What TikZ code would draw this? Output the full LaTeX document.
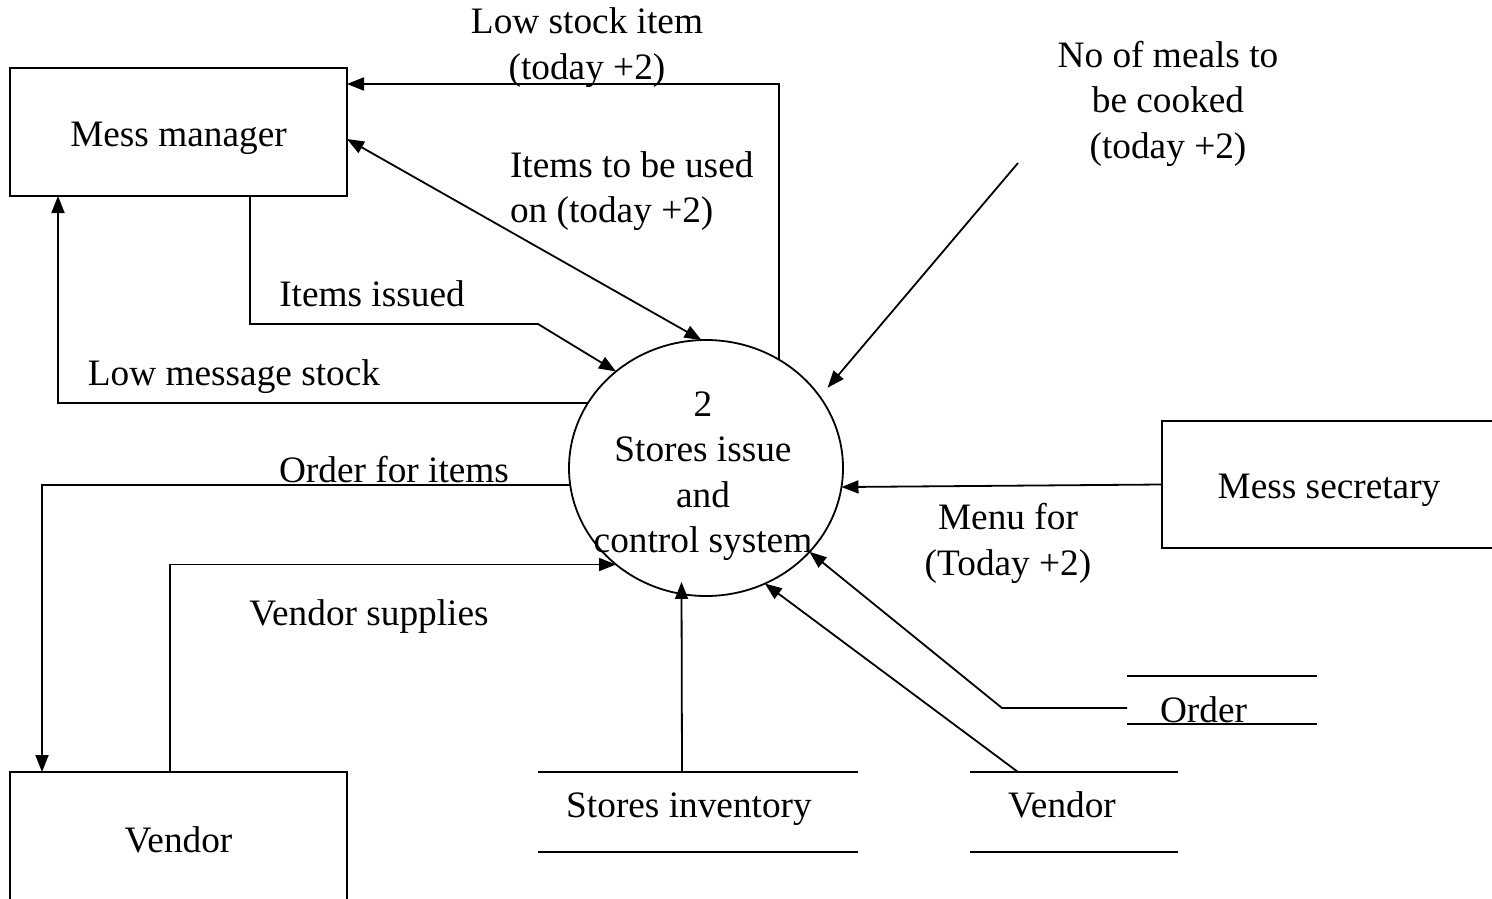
\documentclass[tikz,border=0pt]{standalone}
\usepackage{fontspec}
\setmainfont{Liberation Serif}
\usetikzlibrary{arrows.meta,shapes.geometric,calc}
\newcommand\dfdfont{\fontsize{37.3}{45.5}\selectfont}

\begin{document}
\begin{tikzpicture}[x=1pt,y=-1pt,
  every node/.style={font=\dfdfont, inner sep=0pt, outer sep=0pt},
  flow/.style={line width=1.8pt},
  arr/.style={flow, -{Triangle[length=17pt,width=13pt]}},
  darr/.style={flow, {Triangle[length=17pt,width=13pt]}-{Triangle[length=17pt,width=13pt]}},
  entity/.style={draw, line width=1.8pt, rectangle, text height=28pt, text depth=0pt},
  process/.style={draw, line width=1.8pt, ellipse, minimum width=274pt, minimum height=256pt}
]
\useasboundingbox (0,0) rectangle (1492,899);

% external entities
\node[entity, minimum width=337pt, minimum height=128pt] (mm) at (178.5,132) {Mess manager};
\node[entity, minimum width=337pt, minimum height=132pt] (vd) at (178.5,838) {Vendor};
\node[entity, minimum width=334pt, minimum height=127pt] (ms) at (1329,484.5) {Mess secretary};

% process
\node[process] (c) at (706,468) {};
\node[anchor=north, align=center] (ctext) at (703,384.15) {\strut 2\\Stores issue\\and\\control system};

% data stores
\node[minimum width=320pt, minimum height=80pt] (si) at (698,812) {};
\draw[flow] (si.north west) -- (si.north east) (si.south west) -- (si.south east);
\node[anchor=base] (sitext) at (689,817) {Stores inventory};

\node[minimum width=208pt, minimum height=80pt] (vs) at (1074,812) {};
\draw[flow] (vs.north west) -- (vs.north east) (vs.south west) -- (vs.south east);
\node[anchor=base] (vstext) at (1062,817) {Vendor};

\node[minimum width=190pt, minimum height=48pt] (os) at (1222,700) {};
\draw[flow] (os.north west) -- (os.north east) (os.south west) -- (os.south east);
\node[anchor=base] (ostext) at (1203.5,722) {Order};

% data flows
\draw[arr] (c.56) |- ($(mm.north east)+(0,16)$);
\draw[darr] ($(mm.east)+(0,7)$) -- (c.92);
\draw[arr] ($(mm.south west)+(240,0)$) -- ++(0,128) -- ++(288,0) -- (c.133);
\draw[arr] (c.151.4) -| ($(mm.south west)+(48,0)$);
\draw[arr] (c.187.1) -| ($(vd.north west)+(32,0)$);
\draw[arr] ($(vd.north west)+(160,0)$) |- (c.227.3);
\draw[arr, shorten >=-12pt] ($(si.north)+(-16,0)$) -- (c.259.2);
\draw[arr] ($(vs.north west)+(48,0)$) -- (c.297.2);
\draw[arr] ($(os.west)+(0,8)$) -- ++(-125,0) -- (c.321.9);
\draw[arr] (ms.west) -- (c.352.9);
\coordinate (meals) at (1018,163);
\draw[arr, shorten >=12pt] (meals) -- (c.32.4);

% flow labels
\node[anchor=north, align=center] (l1) at (587,2.15) {\strut Low stock item\\(today +2)};
\node[anchor=north, align=center] (l2) at (1168,35.15) {\strut No of meals to\\be cooked\\(today +2)};
\node[anchor=north west, align=left] (l3) at (510,145.15) {\strut Items to be used\\on (today +2)};
\node[anchor=base] (l4) at (372,306) {Items issued};
\node[anchor=base] (l5) at (234,385) {Low message stock};
\node[anchor=base] (l6) at (394,482) {Order for items};
\node[anchor=base] (l7) at (369,625) {Vendor supplies};
\node[anchor=north, align=center] (l8) at (1008,498) {\strut Menu for\\(Today +2)};
\end{tikzpicture}
\end{document}
